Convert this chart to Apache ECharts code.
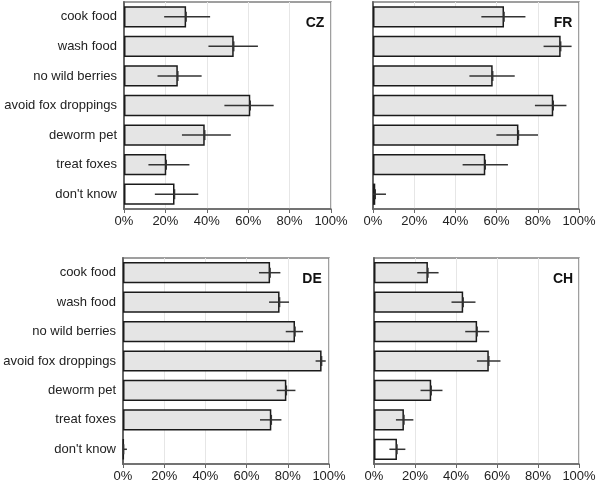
<!DOCTYPE html>
<html>
<head>
<meta charset="utf-8">
<script src="https://cdn.jsdelivr.net/npm/echarts@6/dist/echarts.min.js"></script>
<style>html,body{margin:0;padding:0;background:#fff;}#c{width:600px;height:491px;}</style>
</head>
<body>
<div id="c"></div>
<script>
const categories = ['cook food','wash food','no wild berries','avoid fox droppings','deworm pet','treat foxes',"don't know"];
const panelNames = ['CZ','FR','DE','CH'];
const xTicks = [0,20,40,60,80,100];

const czMean = [30, 53, 26, 61, 39, 20.4, 24.4];
const czLow  = [19.4, 40.8, 16.2, 48.5, 28, 11.8, 14.9];
const czHigh = [41.6, 64.7, 37.5, 72.3, 51.6, 31.6, 35.9];

const frMean = [63.6, 91.1, 58.1, 87.5, 70.6, 54.5, 1.1];
const frLow  = [52.6, 82.8, 46.8, 78.6, 59.9, 43.5, 0];
const frHigh = [74, 96.4, 68.8, 93.9, 80.1, 65.5, 6.3];

const deMean = [71.4, 76, 83.5, 96.4, 79.3, 72, 0.3];
const deLow  = [66, 70.9, 79, 93.5, 74.6, 66.5, 0];
const deHigh = [76.4, 80.6, 87.4, 98.4, 83.7, 76.9, 1.9];

const chMean = [26.3, 43.5, 50.3, 56, 27.9, 14.6, 11.2];
const chLow  = [21.1, 37.8, 44.5, 50.2, 22.7, 10.7, 7.5];
const chHigh = [31.5, 49.5, 56.2, 61.7, 33.4, 19.2, 15.3];

const panels = [
  {name:'CZ', mean:czMean, low:czLow, high:czHigh},
  {name:'FR', mean:frMean, low:frLow, high:frHigh},
  {name:'DE', mean:deMean, low:deLow, high:deHigh},
  {name:'CH', mean:chMean, low:chLow, high:chHigh}
];

const gridPos = [
  {left:124, top:2, width:207, height:207},
  {left:373, top:2, width:206, height:207},
  {left:123, top:258, width:206, height:206},
  {left:374, top:258, width:205, height:206}
];
const titlePos = [
  {x:310, y:18}, {x:558, y:18}, {x:307, y:274}, {x:558, y:274}
];

const FONT = 'Liberation Sans, Arial, sans-serif';
const grids = [], xAxes = [], yAxes = [], series = [], titles = [];

panels.forEach((p, i) => {
  grids.push(Object.assign({show:true, borderColor:'#808080', borderWidth:1.5, backgroundColor:'#fff'}, gridPos[i]));
  xAxes.push({
    type:'value', gridIndex:i, min:xTicks[0], max:xTicks[xTicks.length-1], interval:20,
    axisLine:{show:true, lineStyle:{color:'#666', width:1.5}},
    axisTick:{show:true, length:4, lineStyle:{color:'#666'}},
    axisLabel:{formatter:'{value}%', fontFamily:FONT, fontSize:13, color:'#222', margin:6},
    splitLine:{show:true, lineStyle:{color:'#e6e6e6', width:1}}
  });
  yAxes.push({
    type:'category', gridIndex:i, data:categories, inverse:true,
    axisLine:{show:true, lineStyle:{color:'#666', width:2}},
    axisTick:{show:false},
    axisLabel:{show:(i % 2 === 0), fontFamily:FONT, fontSize:13, color:'#222', margin:7},
    splitLine:{show:false}
  });
  series.push({
    type:'bar', xAxisIndex:i, yAxisIndex:i, barCategoryGap:'28%',
    data:p.mean.map((v, k) => ({
      value:v,
      itemStyle:{color: k === categories.length-1 ? '#ffffff' : '#e5e5e5', borderColor:'#1a1a1a', borderWidth:1.5}
    })),
    silent:true
  });
  series.push({
    type:'custom', xAxisIndex:i, yAxisIndex:i, silent:true, z:5,
    encode:{x:[1,2,3], y:0},
    data:p.mean.map((v, k) => [k, p.low[k], p.high[k], v]),
    renderItem:function(params, api){
      const y = api.value(0);
      const pL = api.coord([api.value(1), y]);
      const pH = api.coord([api.value(2), y]);
      const pM = api.coord([api.value(3), y]);
      const st = {stroke:'#333', lineWidth:1.5};
      return {type:'group', children:[
        {type:'line', shape:{x1:pL[0], y1:pL[1], x2:pH[0], y2:pH[1]}, style:st},
        {type:'line', shape:{x1:pM[0], y1:pM[1]-5, x2:pM[0], y2:pM[1]+5}, style:st}
      ]};
    }
  });
  titles.push({
    text:p.name, left:titlePos[i].x, top:titlePos[i].y, textAlign:'center', textVerticalAlign:'middle',
    textStyle:{fontFamily:FONT, fontSize:14, fontWeight:'bold', color:'#111'}
  });
});

const chart = echarts.init(document.getElementById('c'), null, {renderer:'canvas'});
chart.setOption({
  backgroundColor:'#fff',
  animation:false,
  title:titles,
  grid:grids,
  xAxis:xAxes,
  yAxis:yAxes,
  series:series
});
</script>
</body>
</html>
